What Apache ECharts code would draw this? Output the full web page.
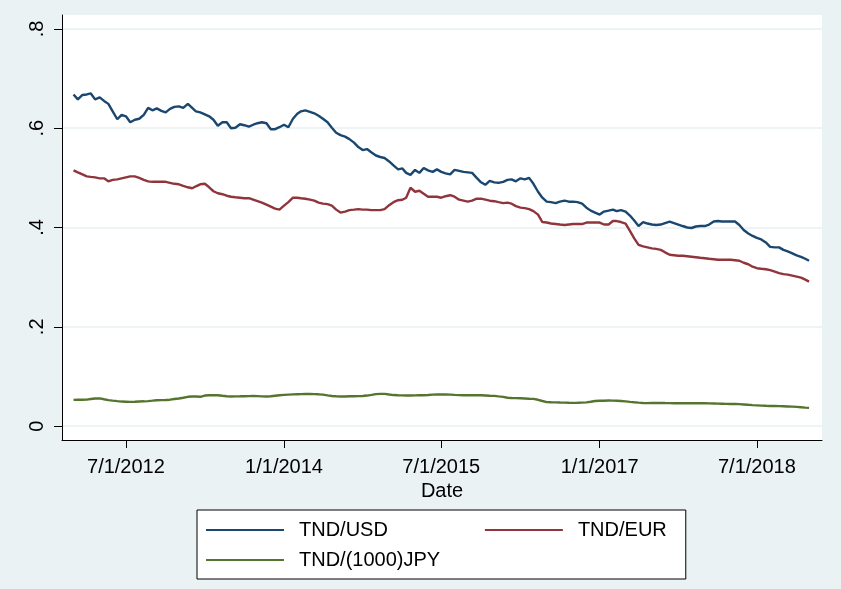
<!DOCTYPE html>
<html>
<head>
<meta charset="utf-8">
<script src="https://cdn.jsdelivr.net/npm/echarts@6/dist/echarts.min.js"></script>
<style>
html,body{margin:0;padding:0;background:#eaf2f3;}
#c{width:841px;height:589px;}
</style>
</head>
<body>
<div id="c"></div>
<script>
// ---- data ----
const seriesNames = ['TND/USD', 'TND/EUR', 'TND/(1000)JPY'];
const xTickDates = ['2012-07-01', '2014-01-01', '2015-07-01', '2017-01-01', '2018-07-01'];
const yTickValues = [0, 0.2, 0.4, 0.6, 0.8];
const yTickLabels = ['0', '.2', '.4', '.6', '.8'];
const xRange = ['2011-11-22', '2019-02-12'];
const yRange = [-0.028, 0.828];

// semi-monthly observation dates (1st and 16th), Jan 2012 .. Dec 2018, plus last obs
const dates = [];
for (let y = 2012; y <= 2018; y++) {
  for (let m = 1; m <= 12; m++) {
    const mm = (m < 10 ? '0' : '') + m;
    dates.push(y + '-' + mm + '-01', y + '-' + mm + '-16');
  }
}
dates.push('2018-12-29');

const usd = [
  .668,.658,.667,.668,.670,.658,.662,.655,.649,.634,.618,.627,
  .624,.612,.617,.619,.627,.641,.636,.640,.635,.632,.639,.643,
  .644,.641,.649,.641,.634,.632,.628,.624,.617,.605,.612,.612,
  .600,.601,.608,.606,.603,.607,.610,.612,.610,.598,.598,.602,
  .607,.602,.619,.629,.634,.636,.633,.630,.625,.619,.612,.601,
  .591,.586,.583,.578,.571,.562,.556,.558,.551,.545,.542,.540,
  .533,.525,.517,.519,.510,.506,.516,.510,.520,.515,.512,.517,
  .512,.509,.507,.516,.514,.512,.511,.510,.500,.491,.486,.494,
  .491,.490,.492,.496,.497,.493,.499,.497,.500,.488,.472,.460,
  .452,.451,.449,.452,.454,.452,.452,.451,.448,.440,.434,.430,
  .426,.432,.434,.436,.433,.435,.432,.424,.414,.403,.411,.408,
  .406,.405,.406,.409,.412,.409,.406,.403,.400,.399,.402,.403,
  .403,.406,.412,.413,.412,.412,.412,.412,.405,.395,.388,.383,
  .379,.376,.370,.361,.360,.360,.355,.352,.348,.344,.341,.337,
  .333
];
const eur = [
  .515,.511,.507,.503,.502,.501,.499,.499,.493,.496,.497,.499,
  .501,.503,.503,.500,.496,.493,.492,.492,.492,.492,.490,.488,
  .487,.484,.481,.479,.483,.487,.488,.481,.473,.469,.467,.464,
  .462,.461,.460,.459,.459,.456,.453,.450,.446,.442,.438,.436,
  .444,.451,.460,.460,.459,.458,.456,.454,.450,.448,.447,.444,
  .436,.430,.432,.435,.436,.437,.436,.436,.435,.435,.435,.437,
  .445,.451,.455,.456,.460,.480,.472,.474,.468,.462,.462,.462,
  .460,.463,.465,.462,.456,.454,.452,.454,.458,.458,.456,.454,
  .453,.451,.449,.450,.448,.443,.440,.439,.437,.433,.426,.411,
  .410,.408,.407,.406,.405,.406,.407,.407,.407,.410,.410,.410,
  .410,.406,.406,.413,.413,.411,.408,.393,.378,.365,.362,.360,
  .358,.357,.355,.350,.345,.344,.343,.343,.342,.341,.340,.339,
  .338,.337,.336,.335,.335,.335,.335,.334,.333,.329,.326,.321,
  .318,.317,.316,.314,.311,.308,.306,.305,.303,.301,.299,.295,
  .291
];
const jpy = [
  .0528,.0530,.0532,.0534,.0545,.0555,.0558,.0540,.0523,.0512,.0502,.0494,
  .0491,.0488,.0491,.0495,.0499,.0504,.0512,.0521,.0524,.0527,.0532,.0545,
  .0555,.0570,.0590,.0595,.0595,.0590,.0615,.0622,.0622,.0622,.0610,.0600,
  .0597,.0599,.0600,.0602,.0604,.0607,.0604,.0599,.0597,.0601,.0612,.0622,
  .0628,.0633,.0638,.0642,.0644,.0646,.0648,.0644,.0640,.0633,.0618,.0606,
  .0600,.0597,.0597,.0600,.0601,.0603,.0605,.0615,.0628,.0645,.0650,.0650,
  .0637,.0625,.0620,.0618,.0617,.0615,.0618,.0620,.0622,.0627,.0633,.0635,
  .0635,.0635,.0633,.0628,.0624,.0622,.0622,.0622,.0621,.0620,.0616,.0612,
  .0608,.0598,.0588,.0572,.0567,.0563,.0561,.0557,.0552,.0548,.0530,.0505,
  .0482,.0479,.0477,.0475,.0473,.0470,.0468,.0470,.0473,.0478,.0490,.0505,
  .0510,.0512,.0515,.0513,.0510,.0506,.0497,.0487,.0479,.0472,.0466,.0462,
  .0464,.0466,.0467,.0465,.0463,.0461,.0461,.0461,.0461,.0461,.0461,.0461,
  .0459,.0457,.0455,.0453,.0451,.0448,.0446,.0444,.0442,.0436,.0429,.0423,
  .0418,.0413,.0409,.0406,.0404,.0402,.0399,.0396,.0392,.0388,.0380,.0372,
  .0366
];

// ---- chart ----
function ts(s) { const p = s.split('-').map(Number); return Date.UTC(p[0], p[1] - 1, p[2]); }
function pairs(vals) { return dates.map((d, i) => [ts(d), vals[i]]); }

const FONT = "'Liberation Sans', Arial, sans-serif";
const colors = ['#1a476f', '#90353b', '#55752f'];

const chart = echarts.init(document.getElementById('c'), null, { renderer: 'canvas' });
chart.setOption({
  animation: false,
  backgroundColor: '#eaf2f3',
  textStyle: { fontFamily: FONT },
  grid: {
    left: 62, right: 19, top: 15, bottom: 149,
    show: true, backgroundColor: '#ffffff', borderWidth: 0
  },
  xAxis: {
    type: 'value',
    min: ts(xRange[0]), max: ts(xRange[1]),
    name: 'Date', nameLocation: 'middle', nameGap: 37,
    nameTextStyle: { fontSize: 20, color: '#000', fontFamily: FONT },
    axisLine: { show: true, onZero: false, lineStyle: { color: '#000', width: 1 } },
    axisTick: { show: true, length: 8, lineStyle: { color: '#000', width: 1 }, customValues: xTickDates.map(ts) },
    axisLabel: {
      fontSize: 20, color: '#000', fontFamily: FONT, margin: 17,
      customValues: xTickDates.map(ts),
      formatter: function (v) { const d = new Date(v); return (d.getUTCMonth() + 1) + '/' + d.getUTCDate() + '/' + d.getUTCFullYear(); }
    },
    splitLine: { show: false }
  },
  yAxis: {
    type: 'value', min: yRange[0], max: yRange[1],
    axisLine: { show: true, lineStyle: { color: '#000', width: 1 } },
    axisTick: { show: true, length: 8, lineStyle: { color: '#000', width: 1 }, customValues: yTickValues },
    axisLabel: {
      fontSize: 20, color: '#000', fontFamily: FONT, rotate: 90, margin: 15,
      customValues: yTickValues,
      formatter: function (v) {
        for (let i = 0; i < yTickValues.length; i++) if (Math.abs(v - yTickValues[i]) < 1e-6) return yTickLabels[i];
        return '';
      }
    },
    splitLine: { show: true, lineStyle: { color: '#e8eff2', width: 1.5 } }
  },
  legend: [
    {
      data: [seriesNames[0], seriesNames[1]],
      left: 197, top: 510, orient: 'horizontal',
      padding: [10, 19, 39, 9], itemGap: 97,
      backgroundColor: '#ffffff', borderColor: '#000', borderWidth: 1,
      itemWidth: 78, itemHeight: 2, icon: 'rect', itemStyle: { borderWidth: 0 },
      textStyle: { fontSize: 20, color: '#000', fontFamily: FONT, padding: [0, 0, 0, 10], lineHeight: 20 }
    },
    {
      data: [seriesNames[2]],
      left: 206, top: 550, orient: 'horizontal', padding: 0,
      itemWidth: 78, itemHeight: 2, icon: 'rect', itemStyle: { borderWidth: 0 },
      textStyle: { fontSize: 20, color: '#000', fontFamily: FONT, padding: [0, 0, 0, 10], lineHeight: 20 }
    }
  ],
  series: [
    { name: seriesNames[0], type: 'line', data: pairs(usd), showSymbol: false, symbol: 'none', color: colors[0], lineStyle: { width: 2.4, color: colors[0] } },
    { name: seriesNames[1], type: 'line', data: pairs(eur), showSymbol: false, symbol: 'none', color: colors[1], lineStyle: { width: 2.4, color: colors[1] } },
    { name: seriesNames[2], type: 'line', data: pairs(jpy), showSymbol: false, symbol: 'none', color: colors[2], lineStyle: { width: 2.4, color: colors[2] } }
  ]
});
</script>
</body>
</html>
